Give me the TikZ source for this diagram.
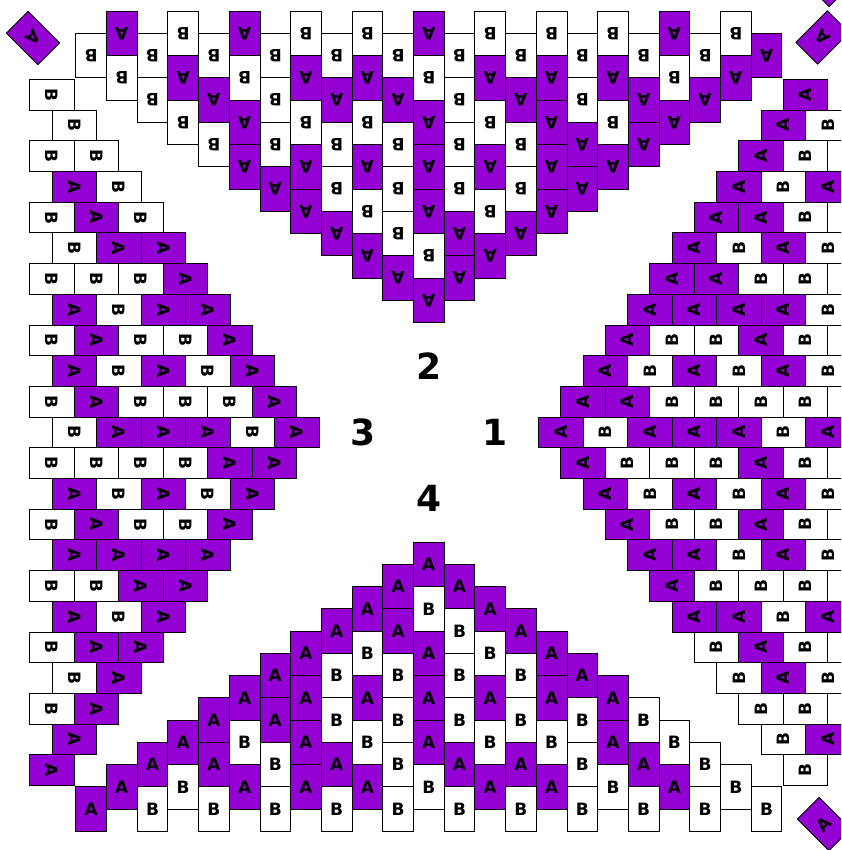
\documentclass[tikz,border=0pt]{standalone}
\usepackage{fontspec}
\setmainfont{DejaVu Sans}
\definecolor{tileA}{HTML}{9400D3}
\definecolor{tileB}{HTML}{FFFFFF}

\tikzset{
  tile/.style={draw=black, line width=0.9pt, minimum width=30.7pt, minimum height=44.5pt,
    inner sep=0pt, outer sep=0pt, font=\fontsize{17}{17}\selectfont\bfseries},
  regionlabel/.style={font=\fontsize{36}{36}\selectfont\bfseries, inner sep=0pt}
}

% rows of tiles, tip first; a row r holds the tiles c=-r,-r+2,...,r  (- = no tile)
\newcommand\tilerows{%
  0/{A},
  1/{A,A},
  2/{A,B,A},
  3/{A,A,B,A},
  4/{A,B,A,B,A},
  5/{A,B,B,B,B,A},
  6/{A,A,A,A,A,A,A},
  7/{A,A,B,B,B,B,B,B},
  8/{A,B,A,B,A,B,B,A,B},
  9/{A,A,B,A,B,A,A,B,A,B},
  10/{A,B,A,A,A,B,A,A,B,A,B},
  11/{A,B,B,B,B,B,B,B,B,B,B,B},
  12/{-,B,A,B,B,B,A,B,B,A,B,A,-}}

% #1 name, #2 #3 outward step, #4 #5 step of c, #6 text angle, #7 last row
\newcommand\tileregion[7]{%
  \foreach \r/\row in \tilerows {
    \ifnum\r>#7\relax\else
      \foreach \L [count=\k] in \row {
        \if\L-\else
          \pgfmathsetmacro\rad{132+22.25*\r}
          \pgfmathsetmacro\lat{30.7*(2*\k-2-\r)}
          \node[tile, fill=tile\L, rotate=#6] (#1-\r-\k)
            at ({428.8+\rad*#2+\lat*#4},{432.4+\rad*#3+\lat*#5}) {\L};
        \fi
      }
    \fi
  }%
}

\begin{document}
\begin{tikzpicture}[x=1pt, y=-1pt]
  \useasboundingbox (0,0) rectangle (841,850);
  \clip (0,0) rectangle (841,850);

  % the four fans round the middle
  \tileregion{bot}{0}{1}{1}{0}{0}{11}
  \tileregion{rgt}{1}{0}{0}{1}{90}{12}
  \tileregion{top}{0}{-1}{-1}{0}{180}{12}
  \tileregion{lft}{-1}{0}{0}{-1}{-90}{11}

  % lone tiles in the corners
  \node[tile, fill=tileA, rotate=225] (nw-0) at (33,38) {A};
  \node[tile, fill=tileA, rotate=135] (ne-0) at (822.5,37.5) {A};
  \node[tile, fill=tileA, rotate=135] (ne-1) at (834,-20) {};
  \node[tile, fill=tileA, rotate=45] (se-0) at (824,824) {A};

  % region numbers
  \node[regionlabel] (lab1) at (494.8,432.4) {1};
  \node[regionlabel] (lab2) at (428.8,366.4) {2};
  \node[regionlabel] (lab3) at (362.8,432.4) {3};
  \node[regionlabel] (lab4) at (428.8,498.4) {4};
\end{tikzpicture}
\end{document}
